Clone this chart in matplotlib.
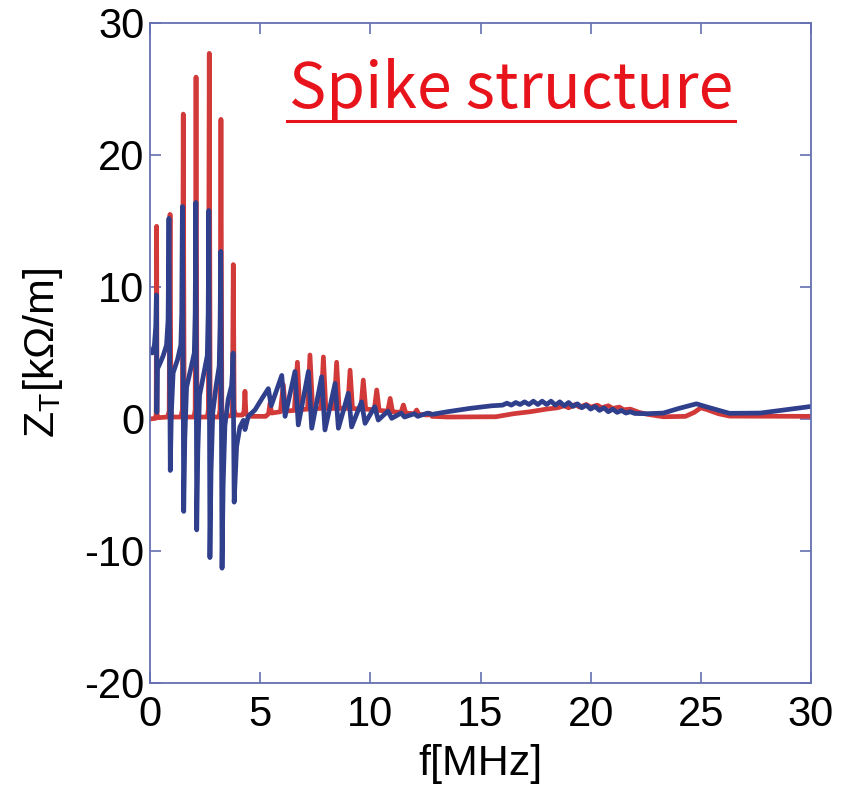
import matplotlib
matplotlib.use('Agg')
import matplotlib.pyplot as plt
from matplotlib.lines import Line2D

plt.rcParams['font.family'] = ['Liberation Sans', 'DejaVu Sans']
plt.rcParams['mathtext.fontset'] = 'custom'
plt.rcParams['mathtext.rm'] = 'Liberation Sans'
plt.rcParams['axes.unicode_minus'] = False

# 読み取り値 (f [MHz], Z_T [kΩ/m])
red_f = [0.00, 0.25, 0.28, 0.30, 0.32, 0.36,
         0.80, 0.87, 0.91, 0.95, 1.00,
         1.40, 1.47, 1.51, 1.55, 1.60,
         2.00, 2.05, 2.09, 2.13, 2.18,
         2.60, 2.65, 2.69, 2.73, 2.78,
         3.13, 3.18, 3.22, 3.26, 3.31,
         3.70, 3.74, 3.78, 3.82, 3.88,
         4.20, 4.27, 4.31, 4.35, 4.45,
         5.25, 5.38, 5.45, 5.52,
         5.92, 6.05, 6.15, 6.55, 6.69, 6.80, 7.15, 7.26, 7.38,
         7.76, 7.87, 7.98, 8.36, 8.47, 8.58, 8.97, 9.08, 9.19,
         9.57, 9.68, 9.79, 10.18, 10.29, 10.40, 10.79, 10.90, 11.01,
         11.39, 11.50, 11.61, 12.00, 12.10, 12.20, 12.60, 12.70, 12.80,
         13.5, 15.7, 16.5, 17.25, 18.0,
         18.5, 18.8, 19.0, 19.3, 19.5, 19.8, 20.0, 20.3, 20.5, 20.8,
         21.0, 21.3, 21.5, 21.8, 22.2,
         22.6, 23.3, 24.3, 24.7, 25.0, 25.3, 25.8, 26.3, 30.0]
red_z = [0.0, 0.05, 0.4, 14.6, 0.4, 0.1,
         0.15, 0.6, 15.5, 0.6, 0.15,
         0.15, 0.7, 23.1, 0.7, 0.15,
         0.15, 0.7, 25.9, 0.7, 0.15,
         0.15, 0.7, 27.7, 0.7, 0.15,
         0.15, 0.7, 22.7, 0.7, 0.2,
         0.25, 0.7, 11.7, 0.7, 0.3,
         0.3, 0.6, 2.1, 0.5, 0.2,
         0.2, 0.4, 1.2, 0.45,
         0.55, 2.6, 0.6, 0.65, 4.3, 0.7, 0.75, 4.85, 0.8,
         0.8, 4.7, 0.8, 0.8, 4.3, 0.8, 0.8, 3.7, 0.8,
         0.75, 2.95, 0.75, 0.7, 2.2, 0.65, 0.6, 1.56, 0.55,
         0.5, 1.06, 0.45, 0.4, 0.68, 0.35, 0.3, 0.43, 0.2,
         0.15, 0.17, 0.4, 0.55, 0.75,
         0.85, 1.0, 0.85, 1.1, 0.9, 1.1, 0.9, 1.05, 0.85, 1.0,
         0.8, 0.9, 0.7, 0.75, 0.5,
         0.35, 0.17, 0.2, 0.5, 0.85, 0.7, 0.4, 0.22, 0.2]

blue_f = [0.00, 0.10, 0.20, 0.26, 0.29, 0.31, 0.34, 0.45, 0.60, 0.75, 0.82, 0.86,
          0.92, 0.97, 1.05, 1.25, 1.40, 1.44, 1.47,
          1.53, 1.58, 1.66, 1.85, 2.01, 2.05, 2.08,
          2.12, 2.17, 2.25, 2.45, 2.60, 2.64, 2.67,
          2.72, 2.77, 2.85, 3.00, 3.14, 3.18, 3.21,
          3.27, 3.32, 3.40, 3.55, 3.70, 3.74, 3.77,
          3.82, 3.93, 4.08, 4.24, 4.31, 4.46, 4.77, 5.10, 5.37,
          5.50, 5.98, 6.13, 6.58, 6.73, 7.19, 7.34, 7.79, 7.94, 8.40,
          8.55, 9.00, 9.15, 9.60, 9.76, 10.20, 10.36, 10.80, 10.97, 11.40,
          11.55, 12.00, 12.15, 12.60,
          12.8, 13.5, 14.5, 15.5,
          16.0, 16.2, 16.4, 16.6, 16.8, 17.0, 17.2, 17.4, 17.6, 17.8,
          18.0, 18.2, 18.4, 18.6, 18.8, 19.0, 19.2, 19.4, 19.6, 19.8,
          20.0, 20.2, 20.4, 20.6, 20.8, 21.0, 21.2, 21.4, 21.6, 21.8, 22.0,
          22.5, 23.3, 24.0, 24.8, 25.3, 26.3, 27.7, 30.0]
blue_z = [5.2, 5.0, 5.6, 7.0, 9.4, 0.5, 3.8, 4.2, 4.8, 5.6, 7.5, 15.2,
          -3.9, 0.5, 3.5, 4.5, 5.6, 8.0, 16.1,
          -7.0, -1.5, 2.4, 3.8, 5.0, 8.0, 16.4,
          -8.4, -2.5, 1.8, 3.5, 4.8, 8.0, 15.8,
          -10.5, -4.0, 0.5, 2.5, 4.0, 7.0, 12.7,
          -11.3, -5.0, -0.5, 1.5, 2.5, 3.5, 5.0,
          -6.3, -2.1, -0.6, -0.1, -0.8, 0.2, 0.7, 1.6, 2.3,
          1.0, 3.3, 0.2, 3.6, -0.45, 3.6, -0.7, 3.2, -0.83, 2.7,
          -0.7, 1.95, -0.6, 1.3, -0.33, 0.93, -0.08, 0.6, 0.05, 0.45,
          0.15, 0.4, 0.2, 0.45,
          0.35, 0.55, 0.8, 1.0,
          1.05, 1.2, 1.05, 1.25, 1.1, 1.3, 1.1, 1.35, 1.1, 1.35,
          1.1, 1.35, 1.05, 1.3, 1.0, 1.25, 0.95, 1.15, 0.85, 1.05,
          0.75, 0.95, 0.65, 0.85, 0.55, 0.75, 0.5, 0.65, 0.45, 0.55, 0.42,
          0.4, 0.45, 0.8, 1.15, 0.9, 0.43, 0.45, 0.95]

xticks = [0, 5, 10, 15, 20, 25, 30]
yticks = [-20, -10, 0, 10, 20, 30]

RED = '#d23a3a'
BLUE = '#2f3f8c'
FRAME = '#6470b0'

fig = plt.figure(figsize=(8.43, 8.02), dpi=100)
ax = fig.add_axes([150/843, 119/802, 661/843, 660/802])

ax.plot(red_f, red_z, color=RED, lw=3.4, solid_joinstyle='round')
ax.plot(blue_f, blue_z, color=BLUE, lw=3.4, solid_joinstyle='round')

ax.set_xlim(0, 30)
ax.set_ylim(-20, 30)
ax.set_xticks(xticks)
ax.set_yticks(yticks)
ax.tick_params(direction='in', length=8, width=1.2, color=FRAME,
               labelsize=30, top=True, right=True)
ax.tick_params(axis='x', pad=9)
ax.tick_params(axis='y', pad=4)
for s in ax.spines.values():
    s.set_color(FRAME)
    s.set_linewidth(1.3)

ax.set_xlabel('f[MHz]', fontsize=31, labelpad=6)
ax.set_ylabel(r'Z$_\mathregular{T}$[kΩ/m]', fontsize=31, labelpad=14)

# 注釈 (下線付き)
fig.text(511/843, 1 - 108/802, 'Spike structure', color='#e8141c',
         fontsize=45, ha='center', va='baseline',
         family=['Noto Sans CJK JP', 'DejaVu Sans'])
fig.add_artist(Line2D([287/843, 735/843], [1 - 121/802, 1 - 121/802],
                      color='#e8141c', lw=2.2))

plt.savefig('out.png', dpi=100)
plt.close()
